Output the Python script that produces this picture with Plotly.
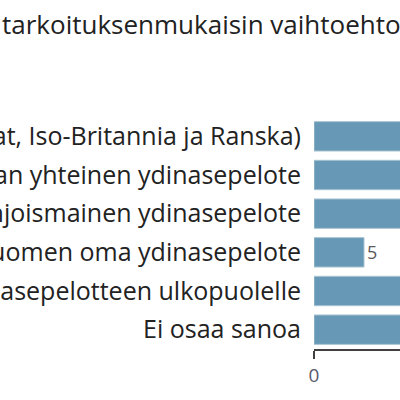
import plotly.graph_objects as go

categories = [
    "at, Iso-Britannia ja Ranska)",
    "an yhteinen ydinasepelote",
    "njoismainen ydinasepelote",
    "uomen oma ydinasepelote",
    "asepelotteen ulkopuolelle",
    "Ei osaa sanoa",
]
values = [38, 14, 12, 5, 17, 13]
title_text = "tarkoituksenmukaisin vaihtoehto"

W, H = 400, 400
ml, mr, mt, mb = 314, 0, 117, 51
pw = W - ml - mr
ph = H - mt - mb
x_max = pw / 10.0

# only labels that fall inside the visible range are drawn
labels = [str(v) if v < x_max - 1.5 else "" for v in values]

fig = go.Figure(go.Bar(
    y=categories,
    x=values,
    orientation="h",
    marker=dict(color="#6798b5", line=dict(color="#a8c3d3", width=1)),
    text=labels,
    textposition="outside",
    textfont=dict(family="Open Sans", size=18, color="#595959"),
    cliponaxis=True,
))

fig.update_layout(
    width=W, height=H,
    margin=dict(l=ml, r=mr, t=mt, b=mb, autoexpand=False),
    plot_bgcolor="white", paper_bgcolor="white",
    showlegend=False,
    bargap=0.24,
    font=dict(family="Open Sans", color="#222222"),
    annotations=[dict(
        text=title_text, xref="paper", yref="paper",
        x=(0 - ml) / pw, xanchor="left",
        y=(H - mb - 24) / ph, yanchor="middle",
        showarrow=False,
        font=dict(family="Open Sans", size=26, color="#222222"),
    )],
)
fig.update_yaxes(
    autorange=False, range=[5.5, -0.5],
    automargin=False,
    showline=False, showgrid=False, zeroline=False,
    ticks="", ticklabelstandoff=12,
    tickfont=dict(family="Open Sans", size=25, color="#222222"),
)
fig.update_xaxes(
    range=[0, x_max], automargin=False,
    showgrid=False, zeroline=False,
    showline=True, linecolor="#404040", linewidth=1.5,
    ticks="outside", ticklen=8, tickwidth=1.5, tickcolor="#404040",
    tickvals=[0], ticktext=["0"],
    tickfont=dict(family="Open Sans", size=19, color="#5a5a6a"),
)

fig.write_html("out.html")
